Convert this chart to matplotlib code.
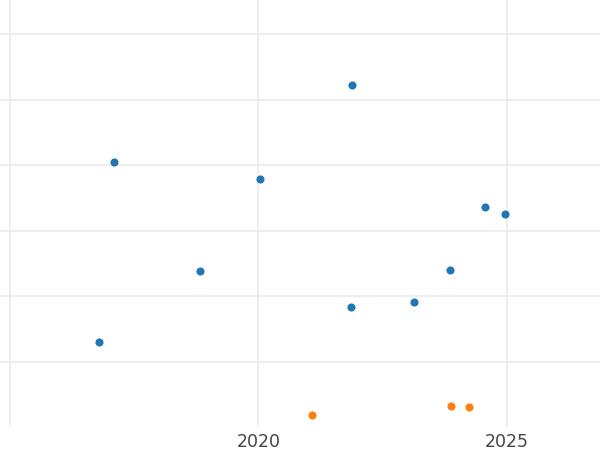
import matplotlib.pyplot as plt

# series (x = year, y = value in grid units)
blue_x = [2017.10, 2016.80, 2018.82, 2020.04, 2021.88, 2021.86, 2023.13, 2023.85, 2024.56, 2024.95]
blue_y = [30.56, 3.06, 13.86, 27.91, 42.23, 8.31, 9.17, 14.01, 23.59, 22.57]

orange_x = [2021.07, 2023.87, 2024.24]
orange_y = [-8.19, -6.72, -6.97]

x_ticks = [2015, 2020, 2025]
x_labels = ["", "2020", "2025"]
y_ticks = [0, 10, 20, 30, 40, 50]

fig = plt.figure(figsize=(6, 4.5), dpi=100)
ax = fig.add_axes([0, 23 / 450, 1, 427 / 450])

ax.scatter(blue_x, blue_y, s=34, color="#1f77b4", zorder=3, linewidths=0)
ax.scatter(orange_x, orange_y, s=34, color="#ff7f0e", zorder=3, linewidths=0)

ax.set_xlim(2014.807, 2026.87)
ax.set_ylim(-9.98, 55.26)

ax.set_xticks(x_ticks)
ax.set_xticklabels(x_labels)
ax.set_yticks(y_ticks)
ax.set_yticklabels([])

ax.tick_params(axis="both", length=0, pad=4.5, labelsize=12.5, labelcolor="#444444")
ax.grid(True, color="#ebebeb", linewidth=1.2)
ax.set_axisbelow(True)
for s in ax.spines.values():
    s.set_visible(False)

fig.savefig("out.png", dpi=100)
plt.close()
